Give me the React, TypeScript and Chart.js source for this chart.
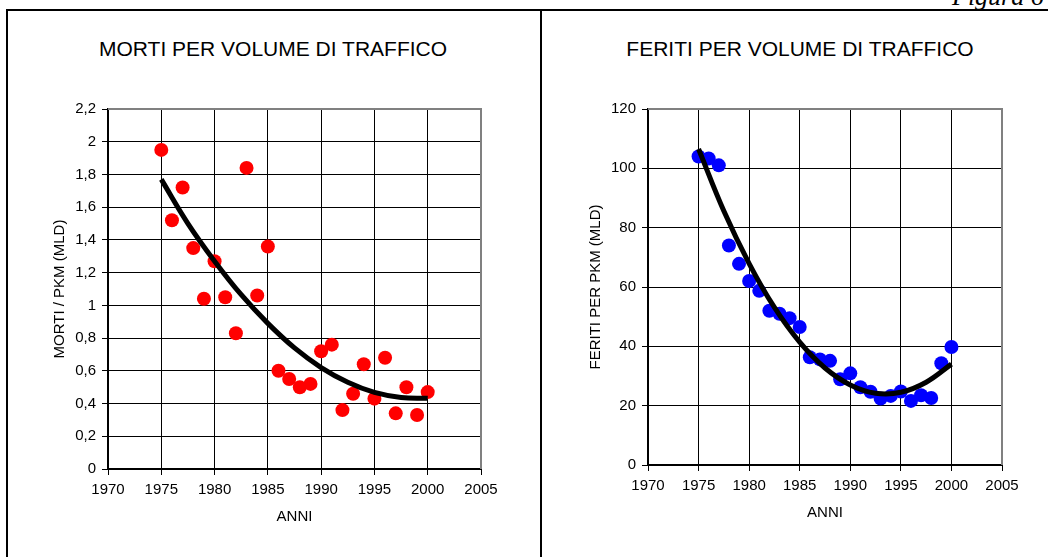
import React, { useEffect, useRef } from 'react';
import { Chart, registerables } from 'chart.js';

Chart.register(...registerables);

// ---------- data ----------
const years = [
  1975, 1976, 1977, 1978, 1979, 1980, 1981, 1982, 1983, 1984, 1985, 1986, 1987,
  1988, 1989, 1990, 1991, 1992, 1993, 1994, 1995, 1996, 1997, 1998, 1999, 2000,
];
const mortiValues = [
  1.95, 1.52, 1.72, 1.35, 1.04, 1.27, 1.05, 0.83, 1.84, 1.06, 1.36, 0.6, 0.55,
  0.5, 0.52, 0.72, 0.76, 0.36, 0.46, 0.64, 0.43, 0.68, 0.34, 0.5, 0.33, 0.47,
];
const feritiValues = [
  104, 103.3, 101, 74, 67.8, 62, 58.7, 52, 51, 49.5, 46.5, 36.3, 35.6, 35.1,
  28.9, 30.9, 26.2, 24.7, 22.4, 23.3, 24.8, 21.6, 23.5, 22.6, 34.3, 39.8,
];
const trendYears = [1975, 1977.5, 1980, 1982.5, 1985, 1987.5, 1990, 1992.5, 1995, 1997.5, 2000];
const mortiTrend = [1.77, 1.5, 1.27, 1.065, 0.89, 0.74, 0.62, 0.53, 0.468, 0.437, 0.432];
const feritiTrend = [106.5, 85.6, 67.9, 53.1, 41.4, 32.7, 27, 24.2, 24.5, 27.9, 34];

const xTickLabels = ['1970', '1975', '1980', '1985', '1990', '1995', '2000', '2005'];
const mortiTickLabels = ['0', '0,2', '0,4', '0,6', '0,8', '1', '1,2', '1,4', '1,6', '1,8', '2', '2,2'];
const feritiTickLabels = ['0', '20', '40', '60', '80', '100', '120'];

const FONT = "Arial, 'Liberation Sans', sans-serif";

const framePlugin = {
  id: 'plotFrame',
  beforeDatasetsDraw(chart: any) {
    const { ctx, chartArea } = chart;
    ctx.save();
    ctx.strokeStyle = '#808080';
    ctx.lineWidth = 2;
    ctx.beginPath();
    ctx.moveTo(chartArea.left, chartArea.top);
    ctx.lineTo(chartArea.right, chartArea.top);
    ctx.lineTo(chartArea.right, chartArea.bottom);
    ctx.stroke();
    ctx.restore();
  },
};

type Opts = {
  values: number[];
  trend: number[];
  color: string;
  yMax: number;
  yStep: number;
  yLabels: string[];
  yTitle: string;
  yAxisWidth: number;
  xAxisHeight: number;
  padding: { left: number; right: number; top: number; bottom: number };
};

function makeConfig(o: Opts): any {
  return {
    type: 'scatter',
    data: {
      datasets: [
        {
          label: 'trend',
          data: trendYears.map((x, i) => ({ x, y: o.trend[i] })),
          showLine: true,
          pointRadius: 0,
          pointHoverRadius: 0,
          borderColor: '#000',
          borderWidth: 5,
          tension: 0.4,
          fill: false,
        },
        {
          label: 'data',
          data: years.map((x, i) => ({ x, y: o.values[i] })),
          pointRadius: 7,
          pointHoverRadius: 7,
          backgroundColor: o.color,
          borderWidth: 0,
        },
      ],
    },
    options: {
      responsive: false,
      animation: false,
      devicePixelRatio: 1,
      layout: { padding: o.padding },
      plugins: { legend: { display: false }, tooltip: { enabled: false }, title: { display: false } },
      scales: {
        x: {
          type: 'linear',
          min: 1970,
          max: 2005,
          ticks: {
            stepSize: 5,
            autoSkip: false,
            maxRotation: 0,
            color: '#000',
            padding: 6,
            font: { family: FONT, size: 15 },
            callback: (_v: any, i: number) => xTickLabels[i] ?? '',
          },
          grid: { color: '#000', lineWidth: 1, tickLength: 6, tickColor: '#000' },
          border: { color: '#000', width: 2 },
          title: { display: true, text: 'ANNI', color: '#000', font: { family: FONT, size: 15 }, padding: 0 },
          afterFit: (s: any) => {
            s.height = o.xAxisHeight;
          },
        },
        y: {
          type: 'linear',
          min: 0,
          max: o.yMax,
          ticks: {
            stepSize: o.yStep,
            autoSkip: false,
            color: '#000',
            padding: 6,
            font: { family: FONT, size: 15 },
            callback: (_v: any, i: number) => o.yLabels[i] ?? '',
          },
          grid: { color: '#000', lineWidth: 1, tickLength: 6, tickColor: '#000' },
          border: { color: '#000', width: 2 },
          title: { display: true, text: o.yTitle, color: '#000', font: { family: FONT, size: 15 }, padding: 0 },
          afterFit: (s: any) => {
            s.width = o.yAxisWidth;
          },
        },
      },
    },
    plugins: [framePlugin],
  };
}

function ChartCanvas({ cfg, left, top, width, height }: { cfg: Opts; left: number; top: number; width: number; height: number }) {
  const ref = useRef<HTMLCanvasElement | null>(null);
  useEffect(() => {
    if (!ref.current) return;
    const chart = new Chart(ref.current, makeConfig(cfg));
    return () => chart.destroy();
  }, []);
  return (
    <canvas
      ref={ref}
      width={width}
      height={height}
      style={{ position: 'absolute', left, top, width, height }}
    />
  );
}

const titleStyle: React.CSSProperties = {
  position: 'absolute',
  top: 36,
  fontFamily: FONT,
  fontSize: 21,
  lineHeight: '26px',
  color: '#000',
  textAlign: 'center',
  whiteSpace: 'nowrap',
};

export default function App() {
  return (
    <div style={{ position: 'fixed', left: 0, top: 0, width: 1048, height: 557, overflow: 'hidden', background: '#fff' }}>
      <div
        style={{
          position: 'absolute',
          left: 952,
          top: -16,
          fontFamily: "'Liberation Serif', 'DejaVu Serif', serif",
          fontStyle: 'italic',
          fontSize: 26,
          lineHeight: '26px',
          whiteSpace: 'nowrap',
          color: '#000',
        }}
      >
        Figura 6
      </div>
      <div
        style={{
          position: 'absolute',
          left: 6,
          top: 9,
          width: 1100,
          height: 700,
          border: '2px solid #000',
          boxSizing: 'border-box',
        }}
      />
      <div style={{ position: 'absolute', left: 540, top: 9, width: 2, height: 700, background: '#000' }} />

      <div style={{ ...titleStyle, left: 73, width: 400 }}>MORTI PER VOLUME DI TRAFFICO</div>
      <div style={{ ...titleStyle, left: 600, width: 400 }}>FERITI PER VOLUME DI TRAFFICO</div>

      <ChartCanvas
        left={51}
        top={90}
        width={489}
        height={441}
        cfg={{
          values: mortiValues,
          trend: mortiTrend,
          color: '#ff0000',
          yMax: 2.2,
          yStep: 0.2,
          yLabels: mortiTickLabels,
          yTitle: 'MORTI / PKM (MLD)',
          yAxisWidth: 57,
          xAxisHeight: 57,
          padding: { left: 0, right: 59, top: 19, bottom: 5 },
        }}
      />
      <ChartCanvas
        left={587}
        top={90}
        width={461}
        height={441}
        cfg={{
          values: feritiValues,
          trend: feritiTrend,
          color: '#0000ff',
          yMax: 120,
          yStep: 20,
          yLabels: feritiTickLabels,
          yTitle: 'FERITI PER PKM (MLD)',
          yAxisWidth: 61,
          xAxisHeight: 57,
          padding: { left: 0, right: 46, top: 19, bottom: 9 },
        }}
      />
    </div>
  );
}
